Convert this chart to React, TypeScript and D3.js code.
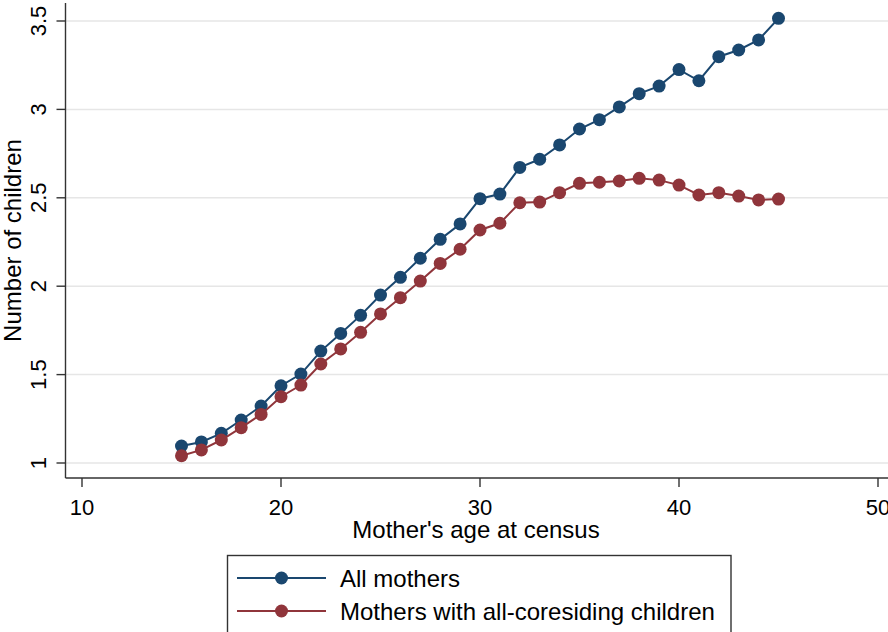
import React from "react";
import * as d3 from "d3";

// Mother's age at census (years)
const ages = [15, 16, 17, 18, 19, 20, 21, 22, 23, 24, 25, 26, 27, 28, 29, 30, 31, 32, 33, 34, 35, 36, 37, 38, 39, 40, 41, 42, 43, 44, 45];

// Mean number of children, all mothers
const allMothers = [1.096, 1.119, 1.168, 1.243, 1.322, 1.437, 1.503, 1.633, 1.733, 1.835, 1.95, 2.05, 2.158, 2.265, 2.352, 2.495, 2.521, 2.672, 2.718, 2.799, 2.889, 2.942, 3.014, 3.089, 3.132, 3.225, 3.162, 3.298, 3.336, 3.393, 3.515];

// Mean number of children, mothers whose children all live with them
const coresiding = [1.041, 1.074, 1.13, 1.2, 1.275, 1.375, 1.441, 1.56, 1.645, 1.739, 1.843, 1.935, 2.029, 2.129, 2.209, 2.318, 2.356, 2.472, 2.476, 2.529, 2.582, 2.588, 2.595, 2.61, 2.6, 2.572, 2.516, 2.529, 2.51, 2.488, 2.493];

const xTicks = [10, 20, 30, 40, 50];
const yTicks = [1, 1.5, 2, 2.5, 3, 3.5];
const yTickLabels = ["1", "1.5", "2", "2.5", "3", "3.5"];

const seriesNames = ["All mothers", "Mothers with all-coresiding children"];
const seriesColors = ["#1a476f", "#90353b"];

const W = 888;
const H = 632;
const FONT = "Arial, 'Liberation Sans', Helvetica, sans-serif";

export default function App() {
  const x = d3.scaleLinear().domain([10, 50]).range([82, 878]);
  const y = d3.scaleLinear().domain([1, 3.5]).range([463, 21]);

  const plotLeft = 65.5;
  const plotBottom = 478;
  const plotTop = 3;
  const plotRight = W;

  const line = d3
    .line<[number, number]>()
    .x((d) => x(d[0]))
    .y((d) => y(d[1]));

  const series = [allMothers, coresiding].map((vals) =>
    ages.map((a, i) => [a, vals[i]] as [number, number])
  );

  const legendLeft = 227.5;
  const legendRight = 731;
  const legendTop = 555.5;
  const rowY = [578, 611];

  return (
    <svg
      width={W}
      height={H}
      style={{ position: "absolute", left: 0, top: 0, background: "#fff" }}
      fontFamily={FONT}
    >
      <rect x={0} y={0} width={W} height={H} fill="#fff" />

      {/* horizontal gridlines */}
      {yTicks.map((t) => (
        <line
          key={"g" + t}
          x1={plotLeft}
          x2={plotRight}
          y1={y(t)}
          y2={y(t)}
          stroke="#e6e6e6"
          strokeWidth={1.5}
        />
      ))}

      {/* axes */}
      <line x1={plotLeft} x2={plotLeft} y1={plotTop} y2={plotBottom} stroke="#333" strokeWidth={1.4} />
      <line x1={plotLeft} x2={plotRight} y1={plotBottom} y2={plotBottom} stroke="#333" strokeWidth={1.4} />

      {/* y ticks and labels */}
      {yTicks.map((t, i) => (
        <g key={"y" + t}>
          <line x1={plotLeft - 9} x2={plotLeft} y1={y(t)} y2={y(t)} stroke="#333" strokeWidth={1.4} />
          <text
            transform={`translate(45.5,${y(t)}) rotate(-90)`}
            textAnchor="middle"
            fontSize={22}
            fill="#000"
          >
            {yTickLabels[i]}
          </text>
        </g>
      ))}

      {/* x ticks and labels */}
      {xTicks.map((t) => (
        <g key={"x" + t}>
          <line x1={x(t)} x2={x(t)} y1={plotBottom} y2={plotBottom + 9} stroke="#333" strokeWidth={1.4} />
          <text x={x(t)} y={515} textAnchor="middle" fontSize={22} fill="#000">
            {t}
          </text>
        </g>
      ))}

      {/* axis titles */}
      <text x={476} y={538} textAnchor="middle" fontSize={24} fill="#000">
        Mother's age at census
      </text>
      <text
        transform={`translate(21,${(plotTop + plotBottom) / 2}) rotate(-90)`}
        textAnchor="middle"
        fontSize={24}
        fill="#000"
      >
        Number of children
      </text>

      {/* series */}
      {series.map((pts, si) => (
        <g key={"s" + si}>
          <path d={line(pts) || ""} fill="none" stroke={seriesColors[si]} strokeWidth={2} />
          {pts.map((p, j) => (
            <circle key={j} cx={x(p[0])} cy={y(p[1])} r={6.5} fill={seriesColors[si]} />
          ))}
        </g>
      ))}

      {/* legend */}
      <rect
        x={legendLeft}
        y={legendTop}
        width={legendRight - legendLeft}
        height={H - legendTop + 5}
        fill="#fff"
        stroke="#333"
        strokeWidth={1.4}
      />
      {seriesNames.map((name, i) => (
        <g key={"l" + i}>
          <line x1={237} x2={326} y1={rowY[i]} y2={rowY[i]} stroke={seriesColors[i]} strokeWidth={2} />
          <circle cx={281.5} cy={rowY[i]} r={6.5} fill={seriesColors[i]} />
          <text x={340} y={rowY[i] + 8.5} fontSize={24} fill="#000">
            {name}
          </text>
        </g>
      ))}
    </svg>
  );
}
